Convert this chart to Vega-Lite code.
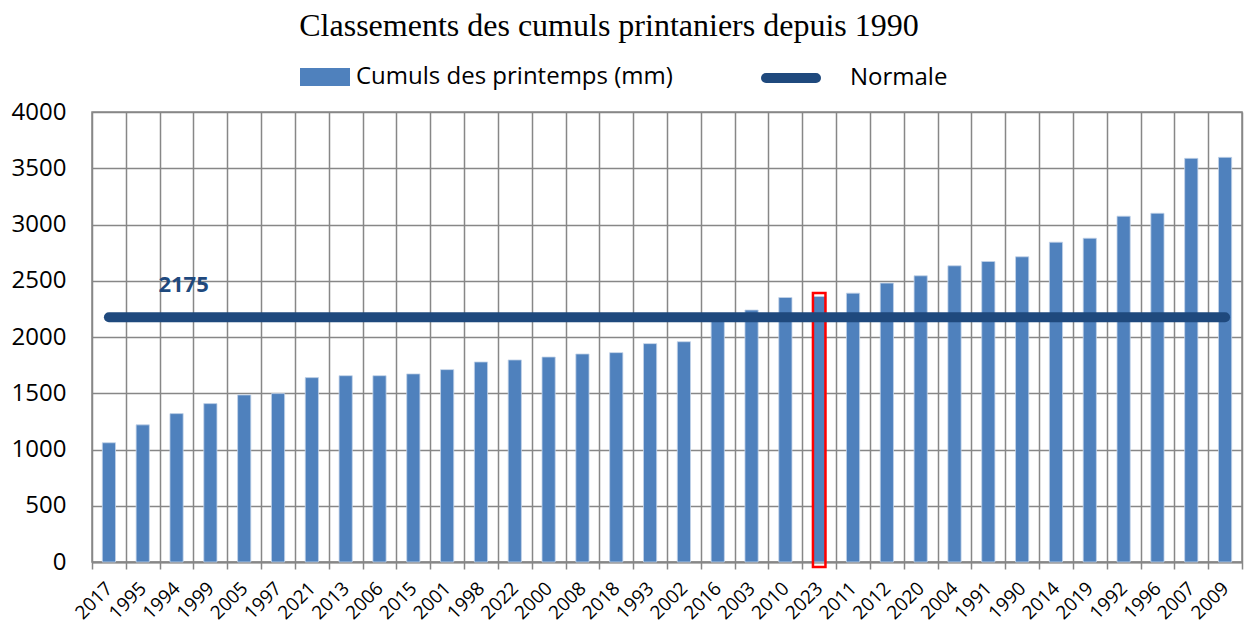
{
  "$schema": "https://vega.github.io/schema/vega-lite/v6.json",
  "autosize": "none",
  "width": 1150,
  "height": 450,
  "padding": {"left": 92, "top": 112, "right": 3, "bottom": 68},
  "background": "white",
  "title": {
    "text": "Classements des cumuls printaniers depuis 1990",
    "font": "Liberation Serif",
    "fontSize": 32,
    "fontWeight": "normal",
    "color": "black",
    "anchor": "middle",
    "dx": -58,
    "offset": 5
  },
  "config": {
    "view": {"stroke": "#878787", "strokeWidth": 1.5}
  },
  "data": {
    "values": [
      {"annee": "2017", "cumul": 1060, "normale": 2175},
      {"annee": "1995", "cumul": 1219, "normale": 2175},
      {"annee": "1994", "cumul": 1319, "normale": 2175},
      {"annee": "1999", "cumul": 1408, "normale": 2175},
      {"annee": "2005", "cumul": 1485, "normale": 2175},
      {"annee": "1997", "cumul": 1497, "normale": 2175},
      {"annee": "2021", "cumul": 1639, "normale": 2175},
      {"annee": "2013", "cumul": 1656, "normale": 2175},
      {"annee": "2006", "cumul": 1656, "normale": 2175},
      {"annee": "2015", "cumul": 1672, "normale": 2175},
      {"annee": "2001", "cumul": 1710, "normale": 2175},
      {"annee": "1998", "cumul": 1778, "normale": 2175},
      {"annee": "2022", "cumul": 1796, "normale": 2175},
      {"annee": "2000", "cumul": 1822, "normale": 2175},
      {"annee": "2008", "cumul": 1849, "normale": 2175},
      {"annee": "2018", "cumul": 1861, "normale": 2175},
      {"annee": "1993", "cumul": 1941, "normale": 2175},
      {"annee": "2002", "cumul": 1958, "normale": 2175},
      {"annee": "2016", "cumul": 2170, "normale": 2175},
      {"annee": "2003", "cumul": 2240, "normale": 2175},
      {"annee": "2010", "cumul": 2351, "normale": 2175},
      {"annee": "2023", "cumul": 2360, "normale": 2175},
      {"annee": "2011", "cumul": 2390, "normale": 2175},
      {"annee": "2012", "cumul": 2479, "normale": 2175},
      {"annee": "2020", "cumul": 2544, "normale": 2175},
      {"annee": "2004", "cumul": 2633, "normale": 2175},
      {"annee": "1991", "cumul": 2671, "normale": 2175},
      {"annee": "1990", "cumul": 2713, "normale": 2175},
      {"annee": "2014", "cumul": 2843, "normale": 2175},
      {"annee": "2019", "cumul": 2878, "normale": 2175},
      {"annee": "1992", "cumul": 3074, "normale": 2175},
      {"annee": "1996", "cumul": 3100, "normale": 2175},
      {"annee": "2007", "cumul": 3588, "normale": 2175},
      {"annee": "2009", "cumul": 3597, "normale": 2175}
    ]
  },
  "encoding": {
    "x": {
      "field": "annee",
      "type": "nominal",
      "sort": null,
      "title": null,
      "scale": {"paddingInner": 0, "paddingOuter": 0},
      "axis": {
        "tickBand": "extent",
        "labelAngle": -45,
        "labelAlign": "right",
        "labelBaseline": "middle",
        "labelFont": "Open Sans",
        "labelFontSize": 19,
        "labelColor": "black",
        "labelPadding": 16,
        "tickSize": 7,
        "tickColor": "#878787",
        "tickWidth": 1.5,
        "grid": true,
        "gridColor": "#878787",
        "gridWidth": 1.5,
        "gridOpacity": 1,
        "domainColor": "#878787",
        "domainWidth": 2
      }
    }
  },
  "layer": [
    {
      "mark": {"type": "bar", "width": {"band": 0.39}, "stroke": "#c3d3e8", "strokeWidth": 0.8},
      "encoding": {
        "y": {
          "field": "cumul",
          "type": "quantitative",
          "title": null,
          "scale": {"domain": [0, 4000], "nice": false},
          "axis": {
            "values": [0, 500, 1000, 1500, 2000, 2500, 3000, 3500, 4000],
            "format": "d",
            "grid": true,
            "gridColor": "#878787",
            "gridWidth": 1.5,
            "gridOpacity": 1,
            "ticks": false,
            "domain": false,
            "labelFont": "Open Sans",
            "labelFontSize": 24,
            "labelColor": "black",
            "labelPadding": 26
          }
        },
        "fill": {
          "datum": "Cumuls des  printemps (mm)",
          "type": "nominal",
          "scale": {"range": ["#4F81BD"]},
          "legend": {
            "orient": "none",
            "legendX": 208,
            "legendY": -60,
            "title": null,
            "padding": 0,
            "symbolType": "M-1,-0.36L1,-0.36L1,0.36L-1,0.36Z",
            "symbolSize": 2500,
            "symbolStrokeWidth": 0,
            "labelFont": "Open Sans",
            "labelFontSize": 24,
            "labelColor": "black",
            "labelOffset": 6,
            "labelLimit": 400
          }
        }
      }
    },
    {
      "transform": [{"filter": "datum.annee === '2023'"}],
      "mark": {"type": "bar", "width": {"band": 0.37}, "filled": false, "stroke": "#FF0000", "strokeWidth": 2.5, "yOffset": -3.5, "y2Offset": 5},
      "encoding": {
        "y": {"field": "cumul", "type": "quantitative", "title": null},
        "y2": {"datum": 0}
      }
    },
    {
      "mark": {"type": "line", "strokeWidth": 10, "strokeCap": "round", "strokeJoin": "round"},
      "encoding": {
        "y": {"field": "normale", "type": "quantitative", "title": null},
        "stroke": {
          "datum": "Normale",
          "type": "nominal",
          "scale": {"range": ["#1F497D"]},
          "legend": {
            "orient": "none",
            "legendX": 669,
            "legendY": -64,
            "title": null,
            "padding": 0,
            "symbolType": "stroke",
            "symbolSize": 2500,
            "symbolStrokeWidth": 10,
            "labelFont": "Open Sans",
            "labelFontSize": 24,
            "labelColor": "black",
            "labelOffset": 29,
            "encode": {"symbols": {"update": {"strokeCap": {"value": "round"}}}}
          }
        }
      }
    },
    {
      "transform": [{"filter": "datum.annee === '1994'"}],
      "mark": {"type": "text", "font": "Open Sans", "fontSize": 22, "fontWeight": "bold", "color": "#1F497D", "dx": 7, "dy": -32},
      "encoding": {
        "y": {"field": "normale", "type": "quantitative", "title": null},
        "text": {"field": "normale", "type": "quantitative"}
      }
    }
  ]
}
